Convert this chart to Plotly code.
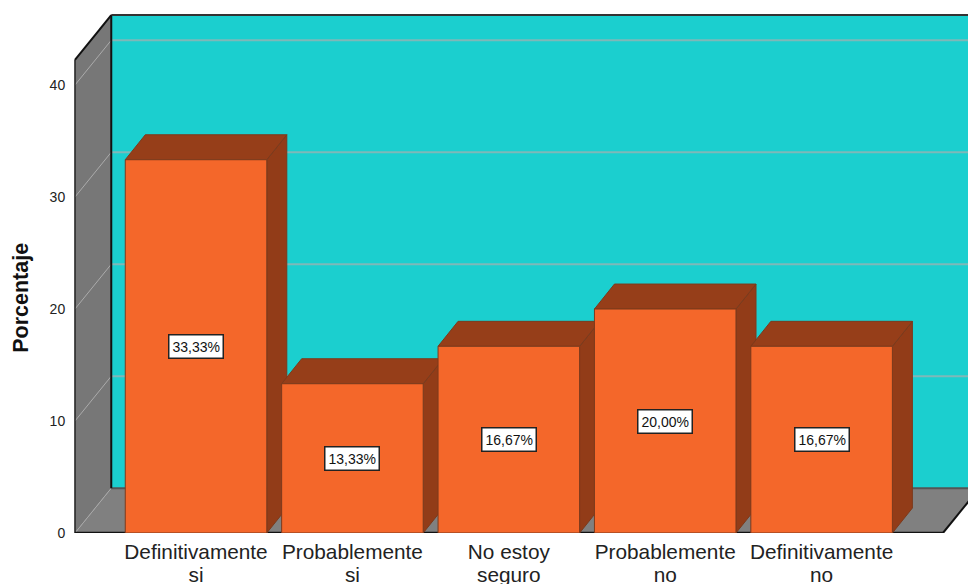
import plotly.graph_objects as go

category_lines = [("Definitivamente", "si"), ("Probablemente", "si"), ("No estoy", "seguro"),
                  ("Probablemente", "no"), ("Definitivamente", "no")]
values = [33.33, 13.33, 16.67, 20.00, 16.67]
y_ticks = [0, 10, 20, 30, 40]

FRONT = "#F4672A"
TOP = "#963E19"
SIDE = "#923C18"
EDGE = "#7C3A1C"
WALL = "#1BCFCF"
SIDE_WALL = "#777777"
FLOOR = "#808080"

# oblique projection offsets, in axis units
BAR_W = 0.905
BAR_DX, BAR_DY = 0.128, 2.23
BOX_DX, BOX_DY = 0.232, 4.0
BOX_TOP = 42.25
X0, X1 = -0.793, 4.936
Y0, Y1 = 0.0, 46.7
FLOOR_RIGHT = 4.776

positions = list(range(len(values)))
fig = go.Figure()

# depth faces, painted left to right so each bar hides its neighbour correctly
for x, v in zip(positions, values):
    l, r = x - BAR_W / 2, x + BAR_W / 2
    fig.add_trace(go.Scatter(
        x=[r, r + BAR_DX, r + BAR_DX, r, r], y=[0, BAR_DY, v + BAR_DY, v, 0],
        mode="lines", fill="toself", fillcolor=SIDE, line=dict(color=EDGE, width=1),
        hoverinfo="skip", showlegend=False))
    fig.add_trace(go.Scatter(
        x=[l, r, r + BAR_DX, l + BAR_DX, l], y=[v, v, v + BAR_DY, v + BAR_DY, v],
        mode="lines", fill="toself", fillcolor=TOP, line=dict(color=EDGE, width=1),
        hoverinfo="skip", showlegend=False))

# front faces sit on an overlaid pair of axes, above every depth face
fig.add_trace(go.Bar(
    x=positions, y=values, width=BAR_W, xaxis="x2", yaxis="y2",
    marker=dict(color=FRONT, line=dict(color=EDGE, width=1)),
    hoverinfo="skip", showlegend=False))


def poly(xs, ys, fill, line=None, width=0):
    path = "M " + " L ".join(f"{a},{b}" for a, b in zip(xs, ys)) + " Z"
    return dict(type="path", path=path, xref="x", yref="y", layer="below",
                fillcolor=fill, line=dict(color=line or fill, width=width))


def seg(x0, y0, x1, y1, color, width, dash="solid"):
    return dict(type="line", x0=x0, y0=y0, x1=x1, y1=y1, xref="x", yref="y", layer="below",
                line=dict(color=color, width=width, dash=dash))


bl, br_ = -0.774, FLOOR_RIGHT
back_l = bl + BOX_DX
shapes = [
    poly([back_l, X1 + 1, X1 + 1, back_l], [BOX_DY, BOX_DY, BOX_TOP + BOX_DY, BOX_TOP + BOX_DY], WALL),
    poly([bl, back_l, back_l, bl], [0, BOX_DY, BOX_TOP + BOX_DY, BOX_TOP], SIDE_WALL),
    poly([bl, br_, br_ + BOX_DX, back_l], [0, 0, BOX_DY, BOX_DY], FLOOR),
]
for t in y_ticks[1:]:
    shapes.append(seg(bl, t, back_l, t + BOX_DY, "#ABABAB", 1))
    shapes.append(seg(back_l, t + BOX_DY, X1 + 1, t + BOX_DY, "#7FB8B8", 2))
shapes += [
    seg(bl, 0, back_l, BOX_DY, "#A8A8A8", 1),
    seg(back_l, BOX_DY, X1 + 1, BOX_DY, "#555555", 2),
    seg(back_l, BOX_DY, back_l, BOX_TOP + BOX_DY, "#111111", 2),
    seg(back_l, BOX_TOP + BOX_DY, X1 + 1, BOX_TOP + BOX_DY, "#333333", 2),
    seg(bl, BOX_TOP, back_l, BOX_TOP + BOX_DY, "#111111", 2),
    seg(bl, 0, bl, BOX_TOP, "#222222", 1.5),
    seg(bl, 0, br_, 0, "#111111", 2.5),
    seg(br_, 0, br_ + BOX_DX, BOX_DY, "#111111", 2),
]

# value boxes centred on each bar
annotations = [
    dict(x=x, y=v / 2, xref="x2", yref="y2", text=f"{v:.2f}%".replace(".", ","),
         showarrow=False, bgcolor="white", bordercolor="#222222", borderwidth=1.5, borderpad=3,
         font=dict(family="Liberation Sans", size=14, color="#111111"))
    for x, v in zip(positions, values)
]
# axis title, centred lower than the plot area's middle
annotations.append(dict(
    x=0, xref="paper", xshift=-37, y=21, yref="y", textangle=-90, showarrow=False,
    xanchor="right", text="<b>Porcentaje</b>",
    font=dict(family="Liberation Sans", size=21.5, color="#111111")))

# the larger glyphs sit inside a smaller base font, which tightens the line pitch
LABEL_GLYPH = '<span style="font-size:20.8px">{}</span>'
tick_labels = ["<br>".join(LABEL_GLYPH.format(part) for part in pair) for pair in category_lines]

axis_hidden = dict(showgrid=False, zeroline=False, showticklabels=False, ticks="", showline=False,
                   automargin=False)
fig.update_layout(
    width=968, height=584, autosize=False,
    margin=dict(l=72, r=0, t=10, b=51),
    paper_bgcolor="white", plot_bgcolor="white",
    font=dict(family="Liberation Sans", color="#222222"),
    shapes=shapes, annotations=annotations, showlegend=False,
    xaxis=dict(range=[X0, X1], tickmode="array", tickvals=positions, ticktext=tick_labels,
               automargin=False,
               showgrid=False, zeroline=False, showline=False, ticks="outside", ticklen=5,
               tickcolor="rgba(0,0,0,0)", tickfont=dict(size=17), fixedrange=True),
    yaxis=dict(range=[Y0, Y1], tickmode="array", tickvals=y_ticks, automargin=False,
               showgrid=False, zeroline=False, showline=False, ticks="outside", ticklen=3,
               tickcolor="rgba(0,0,0,0)", tickfont=dict(size=14), fixedrange=True),
    xaxis2=dict(range=[X0, X1], overlaying="x", anchor="y2", **axis_hidden),
    yaxis2=dict(range=[Y0, Y1], overlaying="y", anchor="x2", **axis_hidden),
)

fig.write_html("out.html", config=dict(displayModeBar=False))
